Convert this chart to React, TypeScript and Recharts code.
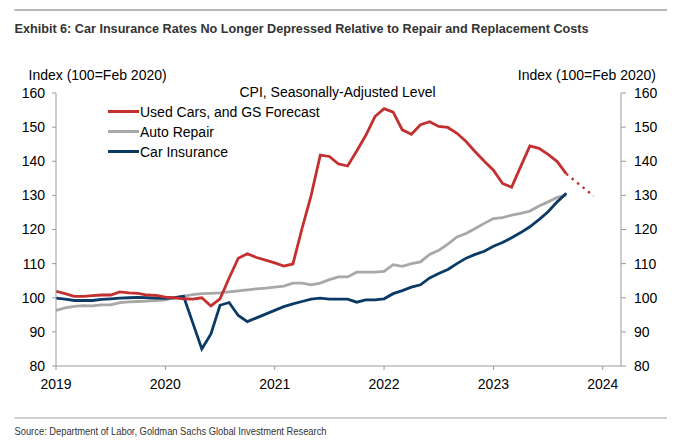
import React from 'react';
import { LineChart, Line, XAxis, YAxis, Legend } from 'recharts';

// CPI levels, monthly from Jan 2019 (index 0) to Sep 2023 (index 56), 100 = Feb 2020
const months = Array.from({ length: 60 }, (_, i) => i);

const usedCars = [
  101.9, 101.2, 100.4, 100.4, 100.6, 100.8, 100.8, 101.7, 101.4, 101.3, 100.8, 100.7,
  100.2, 100.0, 99.7, 99.6, 100.0, 97.6, 99.7, 105.8, 111.6, 112.9, 111.8, 111.0,
  110.2, 109.3, 109.9, 120.3, 130.0, 141.8, 141.4, 139.2, 138.6, 143.0, 147.6, 153.1,
  155.4, 154.4, 149.2, 147.9, 150.7, 151.6, 150.2, 149.9, 148.2, 145.8, 142.8, 140.0,
  137.4, 133.5, 132.4, 138.5, 144.5, 143.8, 142.0, 139.9, 136.3,
];

// GS forecast for used cars (dotted)
const forecastMonths = [56, 59];
const forecastValues = [136.3, 129.8];

const autoRepair = [
  96.3, 97.0, 97.5, 97.7, 97.6, 97.9, 97.9, 98.6, 98.8, 98.9, 99.0, 99.2,
  99.4, 100.0, 100.5, 100.9, 101.2, 101.3, 101.4, 101.7, 102.0, 102.3, 102.6, 102.8,
  103.1, 103.4, 104.3, 104.3, 103.8, 104.3, 105.3, 106.1, 106.1, 107.5, 107.5, 107.5,
  107.7, 109.7, 109.2, 110.0, 110.5, 112.7, 113.9, 115.7, 117.8, 118.8, 120.3, 121.8,
  123.2, 123.5, 124.2, 124.7, 125.4, 126.9, 128.1, 129.4, 130.1,
];

const carInsurance = [
  99.9, 99.6, 99.2, 99.2, 99.2, 99.5, 99.7, 99.9, 100.0, 100.1, 100.0, 99.9,
  99.8, 100.0, 100.4, 92.7, 85.0, 89.4, 97.8, 98.6, 94.8, 93.0, 94.1, 95.2,
  96.3, 97.4, 98.2, 98.9, 99.6, 99.9, 99.6, 99.6, 99.6, 98.7, 99.4, 99.4,
  99.7, 101.2, 102.1, 103.1, 103.8, 105.8, 107.1, 108.3, 110.0, 111.6, 112.7, 113.6,
  115.1, 116.2, 117.6, 119.1, 120.8, 122.9, 125.2, 128.1, 130.6,
];

const yearTicks = [0, 12, 24, 36, 48, 60];
const yearLabels = ['2019', '2020', '2021', '2022', '2023', '2024'];
const valueTicks = [80, 90, 100, 110, 120, 130, 140, 150, 160];

const seriesNames = ['Used Cars, and GS Forecast', 'Auto Repair', 'Car Insurance'];
const seriesColors = ['#c3302f', '#a8a8a8', '#0b3a66'];

const data = months.map((m, i) => {
  const f = forecastMonths.indexOf(m);
  return {
    m,
    usedCars: i < usedCars.length ? usedCars[i] : null,
    forecast: f >= 0 ? forecastValues[f] : null,
    autoRepair: i < autoRepair.length ? autoRepair[i] : null,
    carInsurance: i < carInsurance.length ? carInsurance[i] : null,
  };
});

const FONT = "'Liberation Sans', Arial, sans-serif";
const NARROW = "'Liberation Sans Narrow', 'Arial Narrow', 'Liberation Sans', sans-serif";
const AXIS = '#9a9a9a';

const renderLegend = () => (
  <div style={{ fontFamily: FONT, fontSize: 14, color: '#000' }}>
    {seriesNames.map((name, i) => (
      <div key={name} style={{ display: 'flex', alignItems: 'center', height: 20 }}>
        <span style={{ width: 31, height: 3, background: seriesColors[i], marginRight: 1 }} />
        <span>{name}</span>
      </div>
    ))}
  </div>
);

export default function App() {
  return (
    <div style={{ position: 'absolute', left: 0, top: 0, width: 685, height: 447, background: '#fff', fontFamily: FONT }}>
      <LineChart width={685} height={447} data={data} margin={{ top: 93, right: 14, bottom: 51, left: 16 }}>
        <XAxis
          dataKey="m"
          type="number"
          domain={[0, 62]}
          ticks={yearTicks}
          interval={0}
          tickFormatter={(v: number) => yearLabels[yearTicks.indexOf(v)]}
          tickSize={4}
          tickMargin={9}
          height={30}
          stroke={AXIS}
          tick={{ fill: '#000', fontSize: 14 }}
        />
        <YAxis
          yAxisId="left"
          domain={[80, 160]}
          ticks={valueTicks}
          interval={0}
          width={40}
          tickSize={4}
          tickMargin={7}
          stroke={AXIS}
          tick={{ fill: '#000', fontSize: 14 }}
        />
        {/* same scale as the left axis; the forecast line is plotted against it */}
        <YAxis
          yAxisId="right"
          orientation="right"
          domain={[80, 160]}
          ticks={valueTicks}
          interval={0}
          width={50}
          tickSize={5}
          tickMargin={8}
          stroke={AXIS}
          tick={{ fill: '#000', fontSize: 14 }}
        />
        <Legend
          content={renderLegend}
          layout="horizontal"
          verticalAlign="middle"
          align="center"
          wrapperStyle={{ position: 'absolute', left: 108, top: 101.5, width: 'auto' }}
        />
        <Line yAxisId="left" dataKey="autoRepair" stroke={seriesColors[1]} strokeWidth={2.8} dot={false} isAnimationActive={false} />
        <Line yAxisId="left" dataKey="carInsurance" stroke={seriesColors[2]} strokeWidth={2.8} dot={false} isAnimationActive={false} />
        <Line yAxisId="left" dataKey="usedCars" stroke={seriesColors[0]} strokeWidth={2.8} dot={false} isAnimationActive={false} />
        <Line
          yAxisId="right"
          dataKey="forecast"
          stroke={seriesColors[0]}
          strokeWidth={2.4}
          strokeDasharray="2.4 4.6"
          dot={false}
          connectNulls
          isAnimationActive={false}
        />
      </LineChart>
      <svg width={685} height={447} style={{ position: 'absolute', left: 0, top: 0, pointerEvents: 'none' }}>
        <line x1={14.5} x2={667} y1={10} y2={10} stroke="#a0a0a0" strokeWidth={1.6} />
        <text x={14.5} y={32.5} fontFamily={NARROW} fontWeight="bold" fontSize={13.5} fill="#333" textLength={574} lengthAdjust="spacingAndGlyphs">
          Exhibit 6: Car Insurance Rates No Longer Depressed Relative to Repair and Replacement Costs
        </text>
        <text x={28.5} y={80} fontFamily={FONT} fontSize={14} fill="#000">Index (100=Feb 2020)</text>
        <text x={656} y={80} fontFamily={FONT} fontSize={14} fill="#000" textAnchor="end">Index (100=Feb 2020)</text>
        <text x={337.5} y={96.5} fontFamily={FONT} fontSize={14} fill="#000" textAnchor="middle">CPI, Seasonally-Adjusted Level</text>
        <line x1={14.5} x2={667} y1={418} y2={418} stroke="#a0a0a0" strokeWidth={1.2} />
        <text x={14.5} y={434.5} fontFamily={NARROW} fontSize={10.5} fill="#333" textLength={312} lengthAdjust="spacingAndGlyphs">
          Source: Department of Labor, Goldman Sachs Global Investment Research
        </text>
      </svg>
    </div>
  );
}
